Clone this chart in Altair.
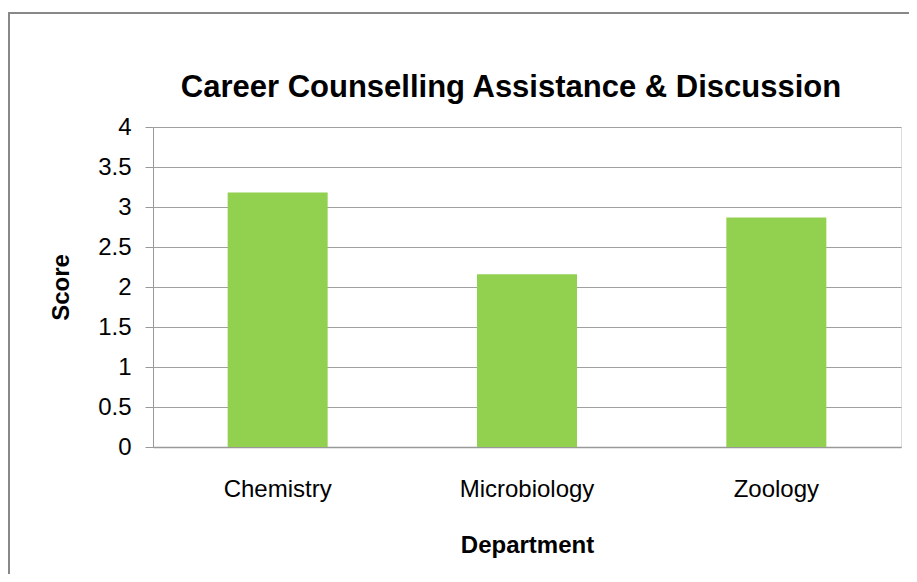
import altair as alt
import pandas as pd

departments = ["Chemistry", "Microbiology", "Zoology"]
scores = [3.18, 2.16, 2.87]
chart_title = ["Career Counselling Assistance & Discussion"]

df = pd.DataFrame({"Department": departments, "Score": scores})
title_df = pd.DataFrame({"t": chart_title})

font = "Liberation Sans"

bars = alt.Chart(df).mark_bar(color="#92D050", size=100).encode(
    x=alt.X("Department:N", sort=departments,
            scale=alt.Scale(paddingInner=0.6, paddingOuter=0.3, align=0.5),
            axis=alt.Axis(title="Department", labelAngle=0, labelFontSize=24,
                          labelFont=font, labelColor="#000", labelPadding=30,
                          titleFont=font, titleFontSize=24, titleFontWeight="bold",
                          titleColor="#000", titlePadding=32, ticks=False,
                          domainColor="#999", domainWidth=1.5, grid=False)),
    y=alt.Y("Score:Q", scale=alt.Scale(domain=[0, 4], nice=False),
            axis=alt.Axis(title="Score", values=[0, 0.5, 1, 1.5, 2, 2.5, 3, 3.5, 4],
                          format="~g",
                          labelFontSize=24, labelFont=font, labelColor="#000",
                          labelPadding=14, tickSize=8, tickColor="#999",
                          domainColor="#999", gridColor="#a0a0a0", gridWidth=1,
                          titleFont=font, titleFontSize=24, titleFontWeight="bold",
                          titleColor="#000", titlePadding=24)),
)

title = alt.Chart(title_df).mark_text(
    font=font, fontSize=31, fontWeight="bold", color="#000",
    align="center", baseline="alphabetic",
).encode(text="t:N", x=alt.value(358), y=alt.value(-30))

frame = alt.Chart(df).mark_rect(fill=None, stroke="#888", strokeWidth=2, clip=False).encode(
    x=alt.value(-144), x2=alt.value(790),
    y=alt.value(-114), y2=alt.value(480),
)

chart = (frame + bars + title).properties(
    width=748, height=320,
    padding={"left": 145, "top": 119, "right": 8, "bottom": 127},
    autosize=alt.AutoSizeParams(type="none"),
).configure_view(stroke=None).configure(background="white")

chart.save("out.html", embed_options={"renderer": "svg", "actions": False})
